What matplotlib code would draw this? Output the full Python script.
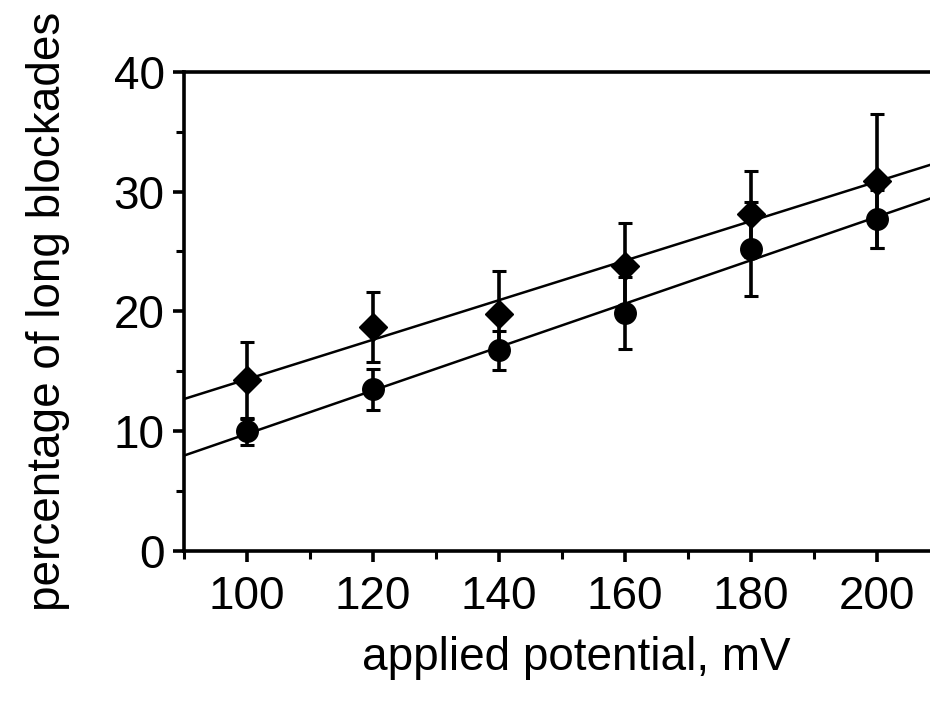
import numpy as np
import matplotlib
matplotlib.use("Agg")
import matplotlib.pyplot as plt
from matplotlib.ticker import MultipleLocator

# applied potential (mV)
potential = [100, 120, 140, 160, 180, 200]

# diamonds (upper series)
diamondVals = [14.25, 18.7, 19.8, 23.8, 28.1, 30.9]
diamondErr = [3.2, 2.9, 3.6, 3.6, 3.6, 5.6]

# circles (lower series)
circleVals = [10.0, 13.5, 16.75, 19.9, 25.2, 27.7]
circleErr = [1.15, 1.7, 1.65, 3.0, 3.95, 2.4]

xTicks = [100, 120, 140, 160, 180, 200]
yTicks = [0, 10, 20, 30, 40]

plt.rcParams["font.family"] = ["Liberation Sans", "DejaVu Sans"]
fontSize = 33

fig = plt.figure(figsize=(9.3, 7.03), dpi=100)
ax = fig.add_axes([0.198, 0.216, 0.802, 0.682])

xmin, xmax = 90, 208.4
xs = np.array([xmin, 212])

# linear fits through each series
for vals in (diamondVals, circleVals):
    slope, icpt = np.polyfit(potential, vals, 1)
    ax.plot(xs, slope * xs + icpt, color="black", lw=1.8, zorder=2)

ax.errorbar(potential, diamondVals, yerr=diamondErr, fmt="D", ms=14.5,
            color="black", ecolor="black", elinewidth=2.6, capsize=5,
            capthick=2.2, zorder=3)
ax.errorbar(potential, circleVals, yerr=circleErr, fmt="o", ms=15.5,
            color="black", ecolor="black", elinewidth=2.6, capsize=5,
            capthick=2.2, zorder=3)

ax.set_xlim(xmin, xmax)
ax.set_ylim(0, 40)
ax.set_xticks(xTicks)
ax.set_yticks(yTicks)
ax.xaxis.set_minor_locator(MultipleLocator(10))
ax.yaxis.set_minor_locator(MultipleLocator(5))

for side in ("left", "bottom", "top"):
    ax.spines[side].set_linewidth(2.6)
ax.spines["right"].set_visible(False)

ax.tick_params(axis="both", which="major", direction="out", length=8,
               width=2.6, labelsize=fontSize, pad=6)
ax.tick_params(axis="x", which="major", pad=9)
ax.tick_params(axis="both", which="minor", direction="out", length=6,
               width=2.2)
ax.tick_params(top=False, right=False, which="both")

ax.set_xlabel("applied potential, mV", fontsize=fontSize)
ax.set_ylabel("percentage of long blockades", fontsize=fontSize)
# label positions in axes coordinates, matched to the reference
ax.xaxis.set_label_coords(0.526, -0.177)
ax.yaxis.set_label_coords(-0.153, 0.5)

fig.savefig("out.png", dpi=100)
